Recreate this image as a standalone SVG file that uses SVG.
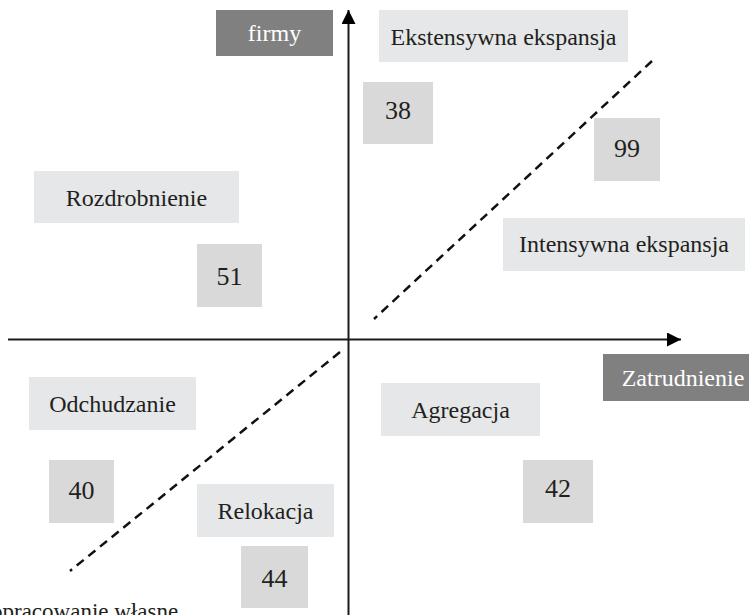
<svg xmlns="http://www.w3.org/2000/svg" width="749" height="615" viewBox="0 0 749 615">
<style>
text{font-family:"Liberation Serif","Times New Roman",serif;fill:#231f20;text-anchor:middle}
.lbl rect{fill:#e6e7e8}
.lbl text{font-size:24px}
.num rect{fill:#d9d9d9}
.num text{font-size:26px}
.dark rect{fill:#808080}
.dark text{font-size:24px;fill:#ffffff}
.axis{stroke:#1a1a1a;stroke-width:2;fill:none}
.dash{stroke:#111;stroke-width:2.5;stroke-dasharray:9 6;fill:none}
</style>
<defs>
<marker id="arr" viewBox="0 0 10 10" refX="10" refY="5" markerWidth="14" markerHeight="14" markerUnits="userSpaceOnUse" orient="auto">
<path d="M0,0 L10,5 L0,10 z" fill="#000"/>
</marker>
</defs>
<rect width="749" height="615" fill="#fff"/>
<g id="connectors">
<line class="axis" x1="348.5" y1="615" x2="348.5" y2="10" marker-end="url(#arr)"/>
<line class="axis" x1="8" y1="339.5" x2="681" y2="339.5" marker-end="url(#arr)"/>
<line class="dash" x1="652" y1="61" x2="374" y2="319"/>
<line class="dash" x1="340" y1="352" x2="70" y2="571"/>
</g>
<g id="firmy" class="dark"><rect x="216" y="10" width="117" height="46"/><text x="274.5" y="41">firmy</text></g>
<g id="zatrudnienie" class="dark"><rect x="603" y="354" width="160" height="47"/><text x="683" y="386">Zatrudnienie</text></g>
<g id="ekstensywna" class="lbl"><rect x="379" y="10" width="249" height="52"/><text x="503.5" y="45">Ekstensywna ekspansja</text></g>
<g id="intensywna" class="lbl"><rect x="503" y="218" width="242" height="53"/><text x="624" y="252">Intensywna ekspansja</text></g>
<g id="rozdrobnienie" class="lbl"><rect x="34" y="171" width="205" height="52"/><text x="136.5" y="206">Rozdrobnienie</text></g>
<g id="odchudzanie" class="lbl"><rect x="29" y="377" width="167" height="53"/><text x="112.5" y="412">Odchudzanie</text></g>
<g id="agregacja" class="lbl"><rect x="381" y="383" width="159" height="53"/><text x="460.5" y="418">Agregacja</text></g>
<g id="relokacja" class="lbl"><rect x="197" y="484" width="137" height="53"/><text x="265.5" y="519">Relokacja</text></g>
<g id="n38" class="num"><rect x="363" y="82" width="70" height="62"/><text x="398" y="119">38</text></g>
<g id="n99" class="num"><rect x="594" y="118" width="66" height="63"/><text x="627" y="157">99</text></g>
<g id="n51" class="num"><rect x="197" y="244" width="65" height="63"/><text x="229.5" y="285">51</text></g>
<g id="n40" class="num"><rect x="49" y="460" width="65" height="63"/><text x="81.5" y="499">40</text></g>
<g id="n42" class="num"><rect x="523" y="460" width="70" height="63"/><text x="558" y="497">42</text></g>
<g id="n44" class="num"><rect x="241" y="546" width="67" height="62"/><text x="274.5" y="587">44</text></g>
<text x="-9" y="619" style="font-size:23px;text-anchor:start">opracowanie własne</text>
</svg>
